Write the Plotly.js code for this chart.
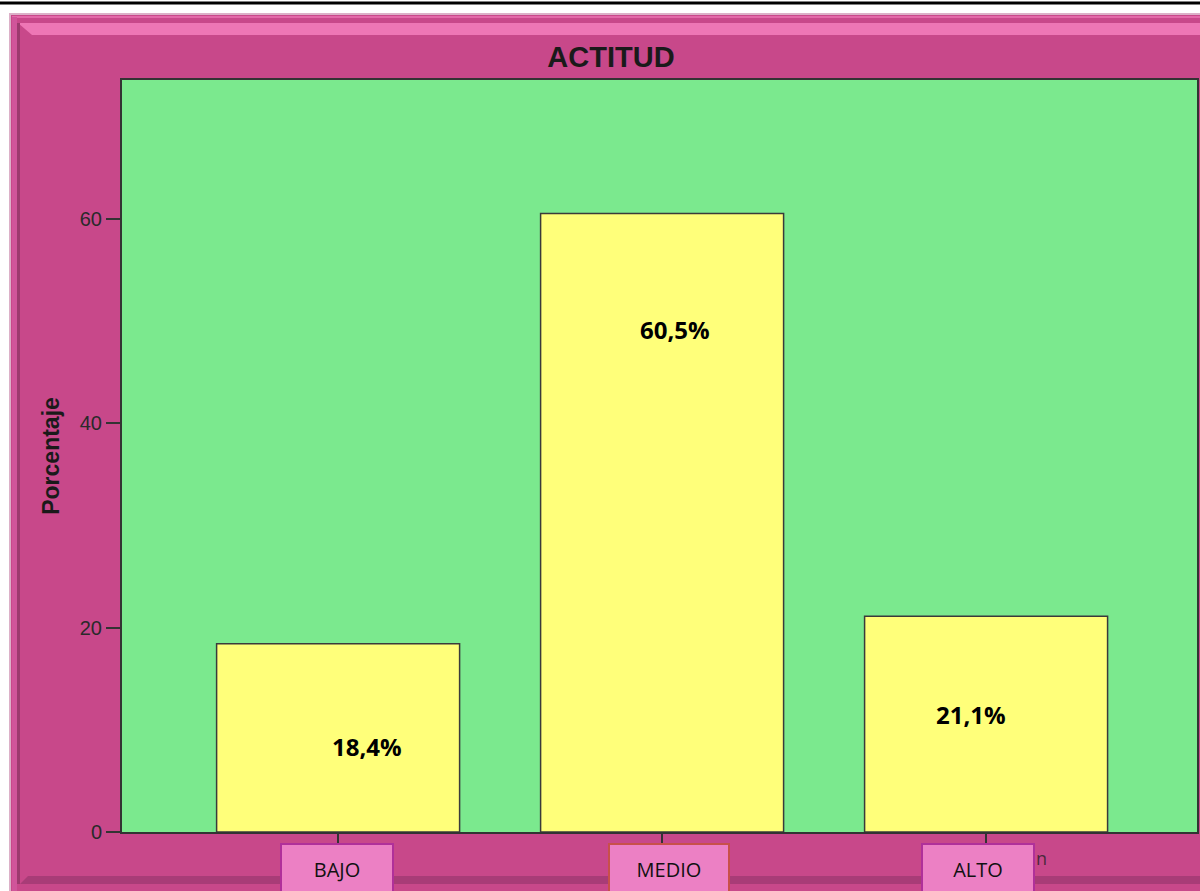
<!DOCTYPE html>
<html>
<head>
<meta charset="utf-8">
<script src="https://cdn.plot.ly/plotly-3.0.1.min.js"></script>
<style>
  html, body { margin: 0; padding: 0; background: #ffffff; }
  #chart { width: 1200px; height: 891px; }
</style>
</head>
<body>
<div id="chart"></div>
<script>
// ---- data ----
const categories = ['BAJO', 'MEDIO', 'ALTO'];
const percentages = [18.4, 60.5, 21.1];
const yTickValues = [0, 20, 40, 60];
const chartTitle = 'ACTITUD';
const yAxisTitle = 'Porcentaje';

// ---- placement / style (not data) ----
const W = 1200, H = 891;
const M = { l: 122, r: 3, t: 80, b: 59 };
const plotW = W - M.l - M.r, plotH = H - M.t - M.b;
const X = px => (px - M.l) / plotW;          // pixel -> paper x
const Y = py => (H - M.b - py) / plotH;       // pixel -> paper y

// value-label placement inside the bars (fraction of bar height, pixel shift)
const labelFrac = [0.457, 0.813, 0.545];
const labelShift = [29, 13, -15];
// category box placement
const boxShift = [-1, 7, -8];
const boxWidth = [110, 118, 110];
const boxBorder = ['#b0309a', '#c8504a', '#b0309a'];

const pink = '#c8488a';

const shapes = [
  // top black rule
  { type: 'line', xref: 'paper', yref: 'paper', x0: X(0), x1: X(1200), y0: Y(3), y1: Y(3),
    line: { color: '#000000', width: 3 }, layer: 'below' },
  // outer frame
  { type: 'rect', xref: 'paper', yref: 'paper', x0: X(10), x1: X(1203), y0: Y(14), y1: Y(896),
    fillcolor: pink, line: { color: '#dcb0c8', width: 2 }, layer: 'below' },
  // thin top light line
  { type: 'rect', xref: 'paper', yref: 'paper', x0: X(12), x1: X(1200), y0: Y(16), y1: Y(18),
    fillcolor: '#e268a8', line: { width: 0 }, layer: 'below' },
  // left outer strip
  { type: 'rect', xref: 'paper', yref: 'paper', x0: X(12), x1: X(17), y0: Y(17), y1: Y(891),
    fillcolor: '#d0559a', line: { width: 0 }, layer: 'below' },
  // top highlight bevel
  { type: 'path', xref: 'paper', yref: 'paper',
    path: `M ${X(18)},${Y(23)} L ${X(1200)},${Y(23)} L ${X(1200)},${Y(35)} L ${X(32)},${Y(35)} Z`,
    fillcolor: '#ee76b5', line: { width: 0 }, layer: 'below' },
  // left inner shadow
  { type: 'rect', xref: 'paper', yref: 'paper', x0: X(17), x1: X(20), y0: Y(23), y1: Y(884),
    fillcolor: '#9c3a6e', line: { width: 0 }, layer: 'below' },
  // bottom shadow band
  { type: 'path', xref: 'paper', yref: 'paper',
    path: `M ${X(20)},${Y(884)} L ${X(1200)},${Y(884)} L ${X(1200)},${Y(876)} L ${X(28)},${Y(876)} Z`,
    fillcolor: '#a83c77', line: { width: 0 }, layer: 'below' },
  // green plotting area
  { type: 'rect', xref: 'paper', yref: 'paper', x0: 0, x1: 1, y0: 0, y1: 1,
    fillcolor: '#7be98e', line: { width: 0 }, layer: 'below' }
];

const fmt = v => v.toFixed(1).replace('.', ',') + '%';

const annotations = [];
categories.forEach((c, i) => {
  // value label
  annotations.push({
    x: c, y: percentages[i] * labelFrac[i], xref: 'x', yref: 'y',
    text: '<b>' + fmt(percentages[i]) + '</b>', showarrow: false,
    xshift: labelShift[i], xanchor: 'center', yanchor: 'middle',
    font: { family: 'Open Sans, sans-serif', size: 24, color: '#000000' }
  });
  // category box
  annotations.push({
    x: c, y: Y(843), xref: 'x', yref: 'paper',
    text: c, showarrow: false, xshift: boxShift[i],
    xanchor: 'center', yanchor: 'top',
    width: boxWidth[i], height: 48, align: 'center', valign: 'middle',
    bgcolor: '#ec80c4', bordercolor: boxBorder[i], borderwidth: 2, borderpad: 0,
    font: { family: 'Open Sans, sans-serif', size: 20, color: '#111111' }
  });
});
// partially hidden axis title remnant
annotations.push({
  x: X(1041), y: Y(858), xref: 'paper', yref: 'paper', text: 'n', showarrow: false,
  xanchor: 'center', yanchor: 'middle',
  font: { family: 'Open Sans, sans-serif', size: 18, color: '#4a2a3c' }
});

const trace = {
  type: 'bar',
  x: categories,
  y: percentages,
  width: 0.75,
  marker: { color: '#ffff7a', line: { color: '#3a3a3a', width: 1.5 } },
  hoverinfo: 'none'
};

const layout = {
  width: W, height: H,
  margin: M,
  paper_bgcolor: '#ffffff',
  plot_bgcolor: 'rgba(0,0,0,0)',
  showlegend: false,
  title: {
    text: '<b>' + chartTitle + '</b>',
    x: 611 / W, xref: 'container', xanchor: 'center',
    y: 1 - 57 / H, yref: 'container', yanchor: 'middle',
    font: { family: 'Liberation Sans, Arial, sans-serif', size: 29, color: '#1a1a1a' }
  },
  xaxis: {
    type: 'category',
    range: [-0.667, 2.651],
    showticklabels: false,
    ticks: 'outside', ticklen: 11, tickwidth: 2, tickcolor: '#333333',
    showline: true, linecolor: '#333333', linewidth: 2, mirror: true,
    showgrid: false, zeroline: false, fixedrange: true
  },
  yaxis: {
    range: [0, 73.55],
    tickmode: 'array', tickvals: yTickValues,
    ticks: 'outside', ticklen: 14, tickwidth: 2, tickcolor: '#333333',
    tickfont: { family: 'Liberation Sans, Arial, sans-serif', size: 20, color: '#2a2a2a' },
    showline: true, linecolor: '#333333', linewidth: 2, mirror: true,
    showgrid: false, zeroline: false, fixedrange: true,
    title: {
      text: '<b>' + yAxisTitle + '</b>', standoff: 14,
      font: { family: 'Liberation Sans, Arial, sans-serif', size: 23, color: '#1a1a1a' }
    }
  },
  shapes: shapes,
  annotations: annotations
};

Plotly.newPlot('chart', [trace], layout, { displayModeBar: false, staticPlot: true });
</script>
</body>
</html>
